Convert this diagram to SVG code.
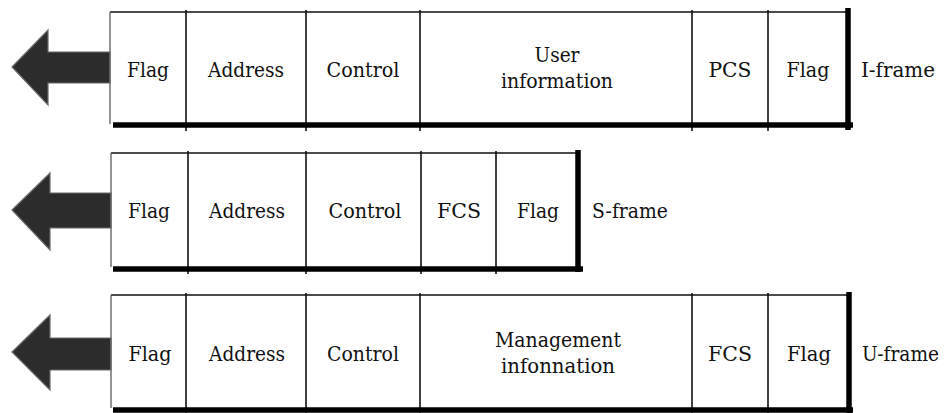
<svg xmlns="http://www.w3.org/2000/svg" width="948" height="413" viewBox="0 0 948 413">
<style>
.t{font-family:'DejaVu Serif',serif;font-size:21px;fill:#111;text-anchor:middle}
.lbl{font-family:'DejaVu Serif',serif;font-size:21px;fill:#111;text-anchor:start}
.thin{stroke:#111;stroke-width:1.6;fill:none}
.left{stroke:#666;stroke-width:1.4;fill:none}
.thick{stroke:#000;stroke-width:5.5;fill:none}
.arrow{fill:#2c2c2c;stroke:#6a6a6a;stroke-width:1.2}
</style>
<rect width="948" height="413" fill="#fff"/>
<g id="connectors">
<path class="arrow" d="M12,67 L48,30 L48,52 L110,52 L110,83 L48,83 L48,105 Z"/>
<path class="arrow" d="M12,210 L50,173 L50,193 L111,193 L111,228 L50,228 L50,250 Z"/>
<path class="arrow" d="M12,352 L50,315 L50,338 L111,338 L111,370 L50,370 L50,390 Z"/>
</g>
<g id="i-frame">
<line class="thin" x1="110" y1="12" x2="848" y2="12"/>
<line class="left" x1="110" y1="12" x2="110" y2="124"/>
<line class="thin" x1="186" y1="10" x2="186" y2="131"/>
<line class="thin" x1="306" y1="10" x2="306" y2="131"/>
<line class="thin" x1="420" y1="10" x2="420" y2="131"/>
<line class="thin" x1="692" y1="10" x2="692" y2="131"/>
<line class="thin" x1="768" y1="10" x2="768" y2="131"/>
<line class="thick" x1="113" y1="125" x2="853" y2="125"/>
<line class="thick" x1="848" y1="8" x2="848" y2="130"/>
<g id="i-flag1"><text class="t" x="148" y="77" textLength="42" lengthAdjust="spacingAndGlyphs">Flag</text></g>
<g id="i-address"><text class="t" x="246" y="77" textLength="76" lengthAdjust="spacingAndGlyphs">Address</text></g>
<g id="i-control"><text class="t" x="363" y="77" textLength="73" lengthAdjust="spacingAndGlyphs">Control</text></g>
<g id="i-user"><text class="t" x="557" y="62" textLength="45" lengthAdjust="spacingAndGlyphs">User</text><text class="t" x="557" y="88" textLength="112" lengthAdjust="spacingAndGlyphs">information</text></g>
<g id="i-pcs"><text class="t" x="730" y="77" textLength="43" lengthAdjust="spacingAndGlyphs">PCS</text></g>
<g id="i-flag2"><text class="t" x="808" y="77" textLength="43" lengthAdjust="spacingAndGlyphs">Flag</text></g>
<g id="i-label"><text class="lbl" x="861" y="77" textLength="74" lengthAdjust="spacingAndGlyphs">I-frame</text></g>
</g>
<g id="s-frame">
<line class="thin" x1="111" y1="153" x2="578" y2="153"/>
<line class="left" x1="111" y1="153" x2="111" y2="267"/>
<line class="thin" x1="188" y1="151" x2="188" y2="274"/>
<line class="thin" x1="306" y1="151" x2="306" y2="274"/>
<line class="thin" x1="421" y1="151" x2="421" y2="274"/>
<line class="thin" x1="496" y1="151" x2="496" y2="274"/>
<line class="thick" x1="113" y1="269" x2="583" y2="269"/>
<line class="thick" x1="578" y1="150" x2="578" y2="272"/>
<g id="s-flag1"><text class="t" x="149" y="218" textLength="42" lengthAdjust="spacingAndGlyphs">Flag</text></g>
<g id="s-address"><text class="t" x="247" y="218" textLength="76" lengthAdjust="spacingAndGlyphs">Address</text></g>
<g id="s-control"><text class="t" x="365" y="218" textLength="73" lengthAdjust="spacingAndGlyphs">Control</text></g>
<g id="s-fcs"><text class="t" x="459" y="218" textLength="44" lengthAdjust="spacingAndGlyphs">FCS</text></g>
<g id="s-flag2"><text class="t" x="538" y="218" textLength="42" lengthAdjust="spacingAndGlyphs">Flag</text></g>
<g id="s-label"><text class="lbl" x="592" y="218" textLength="76" lengthAdjust="spacingAndGlyphs">S-frame</text></g>
</g>
<g id="u-frame">
<line class="thin" x1="111" y1="295" x2="849" y2="295"/>
<line class="left" x1="111" y1="295" x2="111" y2="408"/>
<line class="thin" x1="186" y1="293" x2="186" y2="413"/>
<line class="thin" x1="306" y1="293" x2="306" y2="413"/>
<line class="thin" x1="420" y1="293" x2="420" y2="413"/>
<line class="thin" x1="692" y1="293" x2="692" y2="413"/>
<line class="thin" x1="768" y1="293" x2="768" y2="413"/>
<line class="thick" x1="113" y1="410" x2="853" y2="410"/>
<line class="thick" x1="849" y1="292" x2="849" y2="413"/>
<g id="u-flag1"><text class="t" x="150" y="361" textLength="43" lengthAdjust="spacingAndGlyphs">Flag</text></g>
<g id="u-address"><text class="t" x="247" y="361" textLength="76" lengthAdjust="spacingAndGlyphs">Address</text></g>
<g id="u-control"><text class="t" x="363" y="361" textLength="72" lengthAdjust="spacingAndGlyphs">Control</text></g>
<g id="u-mgmt"><text class="t" x="558" y="347" textLength="126" lengthAdjust="spacingAndGlyphs">Management</text><text class="t" x="558" y="373" textLength="114" lengthAdjust="spacingAndGlyphs">infonnation</text></g>
<g id="u-fcs"><text class="t" x="730" y="361" textLength="44" lengthAdjust="spacingAndGlyphs">FCS</text></g>
<g id="u-flag2"><text class="t" x="809" y="361" textLength="44" lengthAdjust="spacingAndGlyphs">Flag</text></g>
<g id="u-label"><text class="lbl" x="862" y="361" textLength="77" lengthAdjust="spacingAndGlyphs">U-frame</text></g>
</g>
</svg>
